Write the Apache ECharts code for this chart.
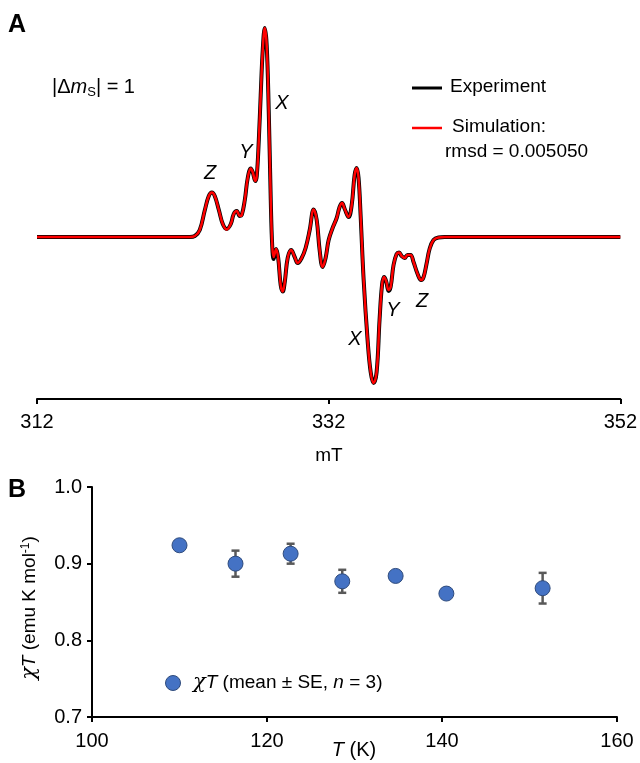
<!DOCTYPE html>
<html>
<head>
<meta charset="utf-8">
<script src="https://cdn.jsdelivr.net/npm/echarts@6/dist/echarts.min.js"></script>
<style>
  html, body { margin: 0; padding: 0; background: #fff; }
  #chart { width: 640px; height: 763px; }
</style>
</head>
<body>
<div id="chart"></div>
<script>
// panel A: EPR spectrum (field in mT, signal in arbitrary units)
const fieldMT = [312.00, 319.74, 322.48, 322.82, 323.16, 323.51, 323.78, 323.99, 324.19, 324.47,
  324.74, 325.01, 325.29, 325.49, 325.70, 325.90, 326.04, 326.25, 326.45, 326.66,
  326.79, 326.97, 327.07, 327.21, 327.34, 327.48, 327.62, 327.75, 327.89, 328.03,
  328.13, 328.23, 328.40, 328.54, 328.71, 328.85, 328.99, 329.19, 329.43, 329.67,
  329.88, 330.15, 330.42, 330.70, 330.97, 331.18, 331.38, 331.59, 331.79, 332.00,
  332.27, 332.55, 332.75, 332.92, 333.10, 333.37, 333.58, 333.78, 333.92, 334.05,
  334.19, 334.40, 334.67, 334.88, 335.08, 335.29, 335.49, 335.66, 335.80, 335.94,
  336.11, 336.25, 336.45, 336.66, 336.83, 337.00, 337.21, 337.41, 337.62, 337.82,
  338.10, 338.34, 338.51, 338.71, 338.92, 339.19, 339.53, 339.95, 343.71, 347.82, 352.00];

const expSignal = [0, 0, 0, 0.01, 0.07, 0.27, 0.41, 0.445, 0.41, 0.27,
  0.13, 0.08, 0.13, 0.23, 0.26, 0.21, 0.22, 0.37, 0.59, 0.685,
  0.65, 0.56, 0.61, 0.97, 1.42, 1.87, 2.09, 1.92, 1.27, 0.37,
  -0.09, -0.22, -0.12, -0.21, -0.48, -0.545, -0.45, -0.21, -0.13, -0.20,
  -0.26, -0.21, -0.11, 0.07, 0.275, 0.17, -0.13, -0.30, -0.21, -0.03,
  0.09, 0.19, 0.30, 0.34, 0.28, 0.20, 0.32, 0.62, 0.69, 0.59,
  0.22, -0.43, -1.03, -1.35, -1.46, -1.35, -0.83, -0.48, -0.40, -0.44,
  -0.54, -0.50, -0.28, -0.17, -0.155, -0.19, -0.21, -0.18, -0.18, -0.25,
  -0.37, -0.43, -0.40, -0.27, -0.12, -0.03, -0.005, 0, 0, 0, 0];

const simSignal = [0, 0, 0, 0.01, 0.07, 0.27, 0.41, 0.445, 0.41, 0.27,
  0.13, 0.075, 0.13, 0.23, 0.26, 0.21, 0.22, 0.37, 0.59, 0.685,
  0.65, 0.56, 0.61, 0.97, 1.42, 1.87, 2.09, 1.92, 1.27, 0.37,
  -0.08, -0.20, -0.12, -0.21, -0.48, -0.545, -0.45, -0.21, -0.13, -0.20,
  -0.26, -0.21, -0.11, 0.07, 0.275, 0.17, -0.13, -0.30, -0.21, -0.03,
  0.09, 0.19, 0.30, 0.34, 0.28, 0.20, 0.32, 0.62, 0.69, 0.59,
  0.22, -0.43, -1.03, -1.35, -1.46, -1.35, -0.83, -0.48, -0.40, -0.44,
  -0.53, -0.50, -0.28, -0.17, -0.155, -0.19, -0.21, -0.18, -0.18, -0.25,
  -0.37, -0.43, -0.40, -0.27, -0.12, -0.03, -0.005, 0, 0, 0, 0];

const fieldTicks = [312, 332, 352];

// peak labels: [text, x px, y px]
const peakLabels = [['Z', 210, 173], ['Y', 246, 152], ['X', 282, 103],
  ['X', 355, 339], ['Y', 393, 310], ['Z', 422, 301]];

// panel B: chi*T vs temperature
const tempK = [110.0, 116.4, 122.7, 128.6, 134.7, 140.5, 151.5];
const chiT = [0.924, 0.900, 0.913, 0.877, 0.884, 0.861, 0.868];
const chiTSE = [0.003, 0.017, 0.013, 0.015, 0.003, 0.004, 0.020];
const tempTicks = [100, 120, 140, 160];
const chiTicks = [0.7, 0.8, 0.9, 1.0];

const FONT = '"Liberation Sans", Arial, sans-serif';

const chart = echarts.init(document.getElementById('chart'));

const errData = tempK.map((t, i) => [t, chiT[i] - chiTSE[i], chiT[i] + chiTSE[i]]);

const option = {
  animation: false,
  backgroundColor: '#fff',
  textStyle: { fontFamily: FONT },
  grid: [
    { left: 37, right: 19, top: 20, height: 379 },
    { left: 92, right: 23, top: 487, bottom: 46 }
  ],
  xAxis: [
    {
      gridIndex: 0, type: 'value', min: fieldTicks[0], max: fieldTicks[2], interval: 20,
      axisLine: { onZero: false, lineStyle: { color: '#000', width: 2 } },
      axisTick: { length: 5, lineStyle: { color: '#000', width: 2 } },
      axisLabel: { color: '#000', fontSize: 20, margin: 13, fontFamily: FONT },
      splitLine: { show: false }
    },
    {
      gridIndex: 1, type: 'value', min: tempTicks[0], max: tempTicks[3], interval: 20,
      axisLine: { onZero: false, lineStyle: { color: '#000', width: 2 } },
      axisTick: { length: 5, lineStyle: { color: '#000', width: 2 } },
      axisLabel: { color: '#000', fontSize: 20, margin: 14, fontFamily: FONT },
      splitLine: { show: false }
    }
  ],
  yAxis: [
    { gridIndex: 0, type: 'value', min: -1.62, max: 2.17, show: false },
    {
      gridIndex: 1, type: 'value', min: chiTicks[0], max: chiTicks[3], interval: 0.1,
      axisLine: { show: true, onZero: false, lineStyle: { color: '#000', width: 2 } },
      axisTick: { show: true, length: 5, lineStyle: { color: '#000', width: 2 } },
      axisLabel: { color: '#000', fontSize: 20, margin: 10, fontFamily: FONT,
        formatter: v => v.toFixed(1) },
      splitLine: { show: false }
    }
  ],
  series: [
    {
      name: 'Experiment', type: 'line', xAxisIndex: 0, yAxisIndex: 0,
      data: fieldMT.map((x, i) => [x, expSignal[i]]),
      showSymbol: false, smooth: 0.4,
      lineStyle: { color: '#000', width: 4 }, z: 2
    },
    {
      name: 'Simulation', type: 'line', xAxisIndex: 0, yAxisIndex: 0,
      data: fieldMT.map((x, i) => [x, simSignal[i]]),
      showSymbol: false, smooth: 0.4,
      lineStyle: { color: '#ff0000', width: 2.5 }, z: 3
    },
    {
      type: 'custom', xAxisIndex: 1, yAxisIndex: 1, z: 2,
      data: errData,
      encode: { x: 0, y: [1, 2] },
      renderItem: function (params, api) {
        const top = api.coord([api.value(0), api.value(2)]);
        const bot = api.coord([api.value(0), api.value(1)]);
        const w = 4;
        const st = { stroke: '#595959', lineWidth: 2.5 };
        return {
          type: 'group',
          children: [
            { type: 'line', shape: { x1: top[0], y1: top[1], x2: bot[0], y2: bot[1] }, style: st },
            { type: 'line', shape: { x1: top[0] - w, y1: top[1], x2: top[0] + w, y2: top[1] }, style: st },
            { type: 'line', shape: { x1: bot[0] - w, y1: bot[1], x2: bot[0] + w, y2: bot[1] }, style: st }
          ]
        };
      }
    },
    {
      type: 'scatter', xAxisIndex: 1, yAxisIndex: 1, z: 4,
      data: tempK.map((t, i) => [t, chiT[i]]),
      symbolSize: 15,
      itemStyle: { color: '#4472c4', borderColor: '#2f4b7c', borderWidth: 1, opacity: 1 }
    }
  ],
  graphic: [
    { type: 'text', left: 8, top: 13, style: { text: 'A', font: 'bold 25px ' + FONT, fill: '#000' } },
    { type: 'text', left: 8, top: 478, style: { text: 'B', font: 'bold 25px ' + FONT, fill: '#000' } },
    {
      type: 'text', x: 52, y: 87,
      style: {
        text: '|Δ{i|m}{sub|S}| = 1', fill: '#000', font: '20px ' + FONT, verticalAlign: 'middle',
        rich: {
          i: { fontStyle: 'italic', fontSize: 20, fontFamily: FONT },
          sub: { fontSize: 13, fontFamily: FONT, padding: [10, 0, 0, 0] }
        }
      }
    },
    // legend A
    { type: 'line', shape: { x1: 412, y1: 88, x2: 442, y2: 88 }, style: { stroke: '#000', lineWidth: 3 } },
    { type: 'text', x: 450, y: 87, style: { text: 'Experiment', font: '19px ' + FONT, fill: '#000', verticalAlign: 'middle' } },
    { type: 'line', shape: { x1: 412, y1: 128, x2: 442, y2: 128 }, style: { stroke: '#ff0000', lineWidth: 2.5 } },
    { type: 'text', x: 452, y: 127, style: { text: 'Simulation:', font: '19px ' + FONT, fill: '#000', verticalAlign: 'middle' } },
    { type: 'text', x: 445, y: 152, style: { text: 'rmsd = 0.005050', font: '19px ' + FONT, fill: '#000', verticalAlign: 'middle' } },
    // axis names
    { type: 'text', x: 329, y: 456, style: { text: 'mT', font: '19px ' + FONT, fill: '#000', align: 'center', verticalAlign: 'middle' } },
    {
      type: 'text', x: 354, y: 750,
      style: {
        text: '{i|T} (K)', font: '20px ' + FONT, fill: '#000', align: 'center', verticalAlign: 'middle',
        rich: { i: { fontStyle: 'italic', fontSize: 20, fontFamily: FONT } }
      }
    },
    {
      type: 'text', x: 30, y: 608, rotation: Math.PI / 2,
      style: {
        text: '{g|χ}{i|T} (emu K mol{sup|-1})', font: '19px ' + FONT, fill: '#000',
        align: 'center', verticalAlign: 'middle',
        rich: {
          g: { fontStyle: 'italic', fontSize: 21, fontFamily: '"DejaVu Serif", serif' },
          i: { fontStyle: 'italic', fontSize: 19, fontFamily: FONT },
          sup: { fontSize: 12, fontFamily: FONT, padding: [0, 0, 9, 0] }
        }
      }
    },
    // legend B
    { type: 'circle', shape: { cx: 173, cy: 683, r: 7.5 }, style: { fill: '#4472c4', stroke: '#2f4b7c', lineWidth: 1 }, z: 10 },
    {
      type: 'text', x: 193, y: 683,
      style: {
        text: '{g|χ}{i|T} (mean ± SE, {i|n} = 3)', font: '19px ' + FONT, fill: '#000', verticalAlign: 'middle',
        rich: {
          g: { fontStyle: 'italic', fontSize: 21, fontFamily: '"DejaVu Serif", serif' },
          i: { fontStyle: 'italic', fontSize: 19, fontFamily: FONT }
        }
      }
    }
  ].concat(peakLabels.map(p => ({
    type: 'text', x: p[1], y: p[2],
    style: { text: p[0], font: 'italic 20px ' + FONT, fill: '#000', align: 'center', verticalAlign: 'middle' },
    z: 10
  })))
};

chart.setOption(option);
</script>
</body>
</html>
